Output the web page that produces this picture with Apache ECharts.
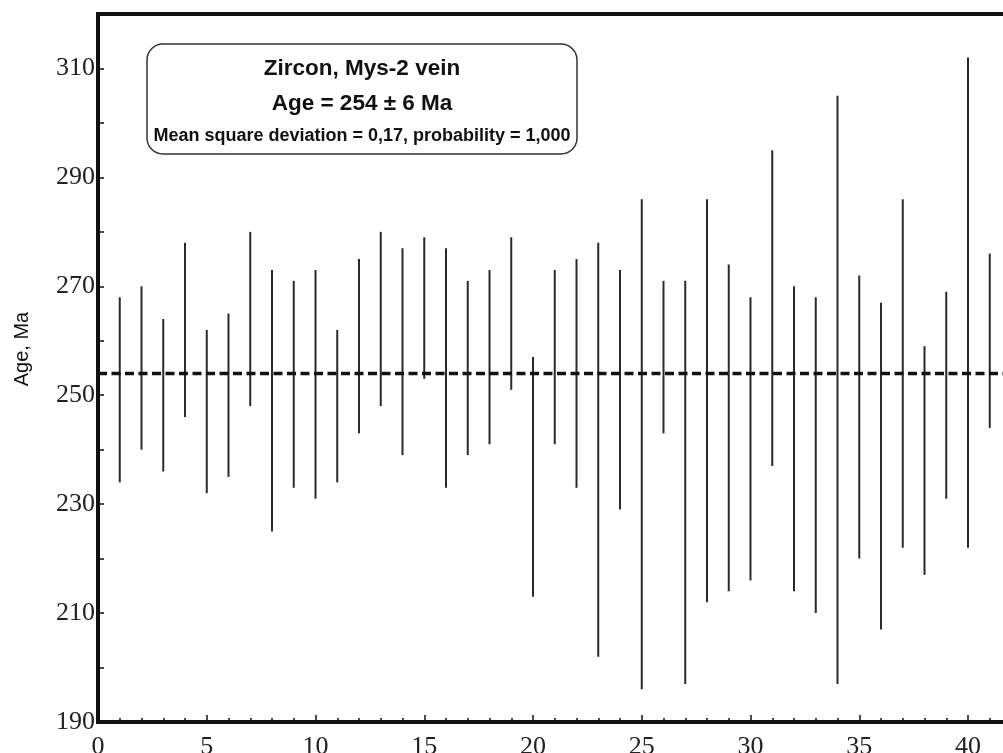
<!DOCTYPE html>
<html>
<head>
<meta charset="utf-8">
<script src="https://cdn.jsdelivr.net/npm/echarts@6/dist/echarts.min.js"></script>
<style>
  html, body { margin: 0; padding: 0; background: #fff; }
  #chart { width: 1003px; height: 753px; }
</style>
</head>
<body>
<div id="chart"></div>
<script>
// Analysis number (x) for each zircon grain
const analyses = [1,2,3,4,5,6,7,8,9,10,11,12,13,14,15,16,17,18,19,20,21,22,23,24,25,26,27,28,29,30,31,32,33,34,35,36,37,38,39,40,41];
// Upper end of each age error bar, Ma
const ageHigh = [268,270,264,278,262,265,280,273,271,273,262,275,280,277,279,277,271,273,279,257,273,275,278,273,286,271,271,286,274,268,295,270,268,305,272,267,286,259,269,312,276];
// Lower end of each age error bar, Ma
const ageLow  = [234,240,236,246,232,235,248,225,233,231,234,243,248,239,253,233,239,241,251,213,241,233,202,229,196,243,197,212,214,216,237,214,210,197,220,207,222,217,231,222,244];
// Weighted mean age, Ma
const meanAge = 254;
// Box text
const boxLines = ['Zircon, Mys-2 vein', 'Age = 254 \u00B1 6 Ma', 'Mean square deviation = 0,17, probability = 1,000'];

const xMin = 0, xMax = 45;
const yMin = 190, yMax = 320;

const barData = analyses.map((a, i) => [a, ageLow[i], ageHigh[i]]);

const chart = echarts.init(document.getElementById('chart'), null, { renderer: 'canvas' });

const serif = 'Liberation Serif';
const sans = 'Liberation Sans';

chart.setOption({
  animation: false,
  backgroundColor: '#fff',
  grid: {
    left: 98, top: 14, width: 978.75, height: 708,
    outerBoundsMode: 'none', containLabel: false,
    show: true, borderColor: '#111', borderWidth: 4, backgroundColor: 'transparent'
  },
  xAxis: {
    type: 'value', min: xMin, max: xMax, interval: 5,
    axisLine: { show: true, lineStyle: { color: '#111', width: 4 } },
    axisTick: { show: true, inside: true, length: 7, lineStyle: { color: '#111', width: 1.5 } },
    minorTick: { show: true, splitNumber: 5, length: 4, lineStyle: { color: '#111', width: 1.5 } },
    axisLabel: { color: '#222', fontFamily: serif, fontSize: 26, margin: 12 },
    splitLine: { show: false }
  },
  yAxis: {
    type: 'value', min: yMin, max: yMax, interval: 10,
    name: 'Age, Ma', nameLocation: 'middle', nameRotate: 90, nameGap: 66,
    nameTextStyle: { fontFamily: sans, fontSize: 20, color: '#111', padding: [0, 0, 0, 38] },
    axisLine: { show: true, lineStyle: { color: '#111', width: 4 } },
    axisTick: { show: true, inside: true, length: 6, lineStyle: { color: '#111', width: 1.5 } },
    axisLabel: {
      color: '#222', fontFamily: serif, fontSize: 26, margin: 3,
      formatter: v => ((v - yMin) % 20 === 0 && v <= 310) ? String(v) : ''
    },
    splitLine: { show: false }
  },
  series: [
    {
      type: 'custom',
      data: barData,
      encode: { x: 0, y: [1, 2] },
      renderItem: (params, api) => {
        const x = api.value(0);
        const p1 = api.coord([x, api.value(1)]);
        const p2 = api.coord([x, api.value(2)]);
        return {
          type: 'line',
          shape: { x1: p1[0], y1: p1[1], x2: p2[0], y2: p2[1] },
          style: { stroke: '#2a2a2a', lineWidth: 2 }
        };
      },
      z: 2
    },
    {
      type: 'line',
      data: [[xMin, meanAge], [xMax, meanAge]],
      symbol: 'none',
      lineStyle: { color: '#111', width: 3.5, type: [9, 4.5] },
      z: 3
    }
  ],
  graphic: [
    {
      type: 'rect', x: 0, y: 0, z: 10,
      shape: { x: 147, y: 44, width: 430, height: 110, r: 16 },
      style: { fill: '#fff', stroke: '#333', lineWidth: 1.5 }
    },
    {
      type: 'text', x: 362, y: 69, z: 11,
      style: { text: boxLines[0], fontFamily: sans, fontWeight: 'bold', fontSize: 22.5, fill: '#111', align: 'center', verticalAlign: 'middle' }
    },
    {
      type: 'text', x: 362, y: 104, z: 11,
      style: { text: boxLines[1], fontFamily: sans, fontWeight: 'bold', fontSize: 22.5, fill: '#111', align: 'center', verticalAlign: 'middle' }
    },
    {
      type: 'text', x: 362, y: 136, z: 11,
      style: { text: boxLines[2], fontFamily: sans, fontWeight: 'bold', fontSize: 18, fill: '#111', align: 'center', verticalAlign: 'middle' }
    }
  ]
});
</script>
</body>
</html>
